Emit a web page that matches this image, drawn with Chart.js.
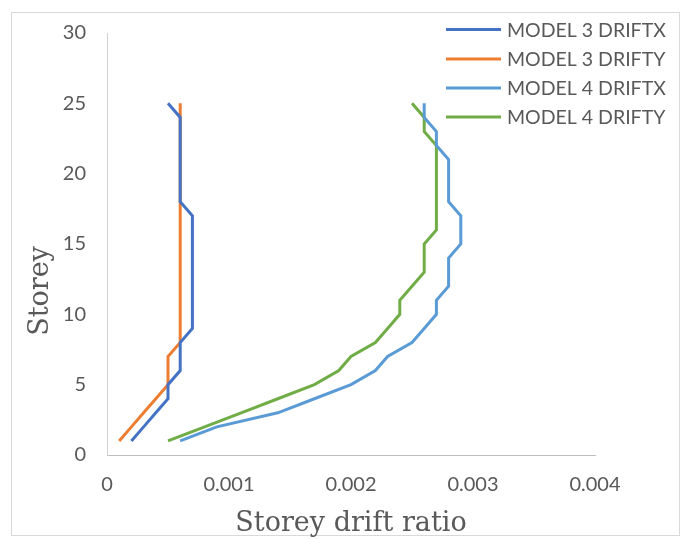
<!DOCTYPE html>
<html>
<head>
<meta charset="utf-8">
<script src="https://cdn.jsdelivr.net/npm/chart.js@4.4.0/dist/chart.umd.min.js"></script>
<style>
html,body{margin:0;padding:0;background:#fff;}
#wrap{position:relative;width:686px;height:539px;}
</style>
</head>
<body>
<div id="wrap"><canvas id="c" width="686" height="539"></canvas></div>
<script>
const storeys = [1,2,3,4,5,6,7,8,9,10,11,12,13,14,15,16,17,18,19,20,21,22,23,24,25];
const model3DriftX = [0.0002,0.0003,0.0004,0.0005,0.0005,0.0006,0.0006,0.0006,0.0007,0.0007,0.0007,0.0007,0.0007,0.0007,0.0007,0.0007,0.0007,0.0006,0.0006,0.0006,0.0006,0.0006,0.0006,0.0006,0.0005];
const model3DriftY = [0.0001,0.0002,0.0003,0.0004,0.0005,0.0005,0.0005,0.0006,0.0006,0.0006,0.0006,0.0006,0.0006,0.0006,0.0006,0.0006,0.0006,0.0006,0.0006,0.0006,0.0006,0.0006,0.0006,0.0006,0.0006];
const model4DriftX = [0.0006,0.0009,0.0014,0.0017,0.0020,0.0022,0.0023,0.0025,0.0026,0.0027,0.0027,0.0028,0.0028,0.0028,0.0029,0.0029,0.0029,0.0028,0.0028,0.0028,0.0028,0.0027,0.0027,0.0026,0.0026];
const model4DriftY = [0.0005,0.0008,0.0011,0.0014,0.0017,0.0019,0.0020,0.0022,0.0023,0.0024,0.0024,0.0025,0.0026,0.0026,0.0026,0.0027,0.0027,0.0027,0.0027,0.0027,0.0027,0.0027,0.0026,0.0026,0.0025];
const seriesNames = ['MODEL 3 DRIFTX','MODEL 3 DRIFTY','MODEL 4 DRIFTX','MODEL 4 DRIFTY'];
const seriesColors = ['#4472C4','#ED7D31','#5B9BD5','#70AD47'];
const xTicks = [0,0.001,0.002,0.003,0.004];
const yTicks = [0,5,10,15,20,25,30];
const xTitle = 'Storey drift ratio';
const yTitle = 'Storey';

const allSeries = [model3DriftX, model3DriftY, model4DriftX, model4DriftY];
const datasets = allSeries.map((vals,i)=>({
  label: seriesNames[i],
  data: vals.map((v,k)=>({x:v,y:storeys[k]})),
  borderColor: seriesColors[i],
  backgroundColor: seriesColors[i],
  borderWidth: 3,
  pointRadius: 0,
  fill: false,
  tension: 0
}));

const tickFont = {family:'Lato, "Liberation Sans", sans-serif', size:20};
const TITLE_FONT = '27px "DejaVu Serif", serif';
const TEXT_COLOR = '#595959';

const framePlugin = {
  id:'frame',
  beforeDraw(chart){
    const ctx = chart.ctx;
    ctx.save();
    ctx.fillStyle='#fff';
    ctx.fillRect(0,0,chart.width,chart.height);
    ctx.strokeStyle='#D9D9D9';
    ctx.lineWidth=1;
    ctx.strokeRect(11.5,12.5,668,523);
    ctx.restore();
  }
};
const decorPlugin = {
  id:'decor',
  afterDraw(chart){
    const ctx = chart.ctx;
    ctx.save();
    // axis titles
    ctx.fillStyle = TEXT_COLOR;
    ctx.font = TITLE_FONT;
    ctx.textAlign='center';
    ctx.textBaseline='alphabetic';
    const ca = chart.chartArea;
    ctx.fillText(xTitle,(ca.left+ca.right)/2,531);
    ctx.save();
    ctx.translate(48,291);
    ctx.rotate(-Math.PI/2);
    ctx.fillText(yTitle,0,0);
    ctx.restore();
    // legend
    const rowY = [29.5,59,88,117];
    chart.data.datasets.forEach((ds,i)=>{
      const y = rowY[i];
      ctx.strokeStyle = ds.borderColor;
      ctx.lineWidth = 3;
      ctx.beginPath();
      ctx.moveTo(446,y);
      ctx.lineTo(501,y);
      ctx.stroke();
      ctx.fillStyle=TEXT_COLOR;
      ctx.font = '19.5px Lato, "Liberation Sans", sans-serif';
      ctx.textBaseline='middle';
      ctx.textAlign='left';
      ctx.fillText(ds.label,507,y+1);
    });
    ctx.restore();
  }
};

new Chart(document.getElementById('c'),{
  type:'line',
  data:{datasets},
  plugins:[framePlugin, decorPlugin],
  options:{
    responsive:false,
    animation:false,
    devicePixelRatio:1,
    layout:{padding:{top:32,right:91,left:0,bottom:0}},
    plugins:{legend:{display:false},tooltip:{enabled:false}},
    scales:{
      x:{
        type:'linear',
        min:0,max:0.004,
        afterBuildTicks(s){ s.ticks = xTicks.map(v=>({value:v})); },
        afterFit(s){ s.height = 84; },
        grid:{display:false,drawTicks:false},
        border:{display:true,color:'#BFBFBF',width:1},
        ticks:{color:TEXT_COLOR,font:tickFont,padding:18,maxRotation:0,
          callback:(v)=>String(v)},
        title:{display:false}
      },
      y:{
        type:'linear',
        min:0,max:30,
        afterBuildTicks(s){ s.ticks = yTicks.map(v=>({value:v})); },
        afterFit(s){ s.width = 107; },
        grid:{display:false,drawTicks:false},
        border:{display:true,color:'#D0D0D0',width:1},
        ticks:{color:TEXT_COLOR,font:tickFont,padding:21},
        title:{display:false}
      }
    }
  }
});
</script>
</body>
</html>
